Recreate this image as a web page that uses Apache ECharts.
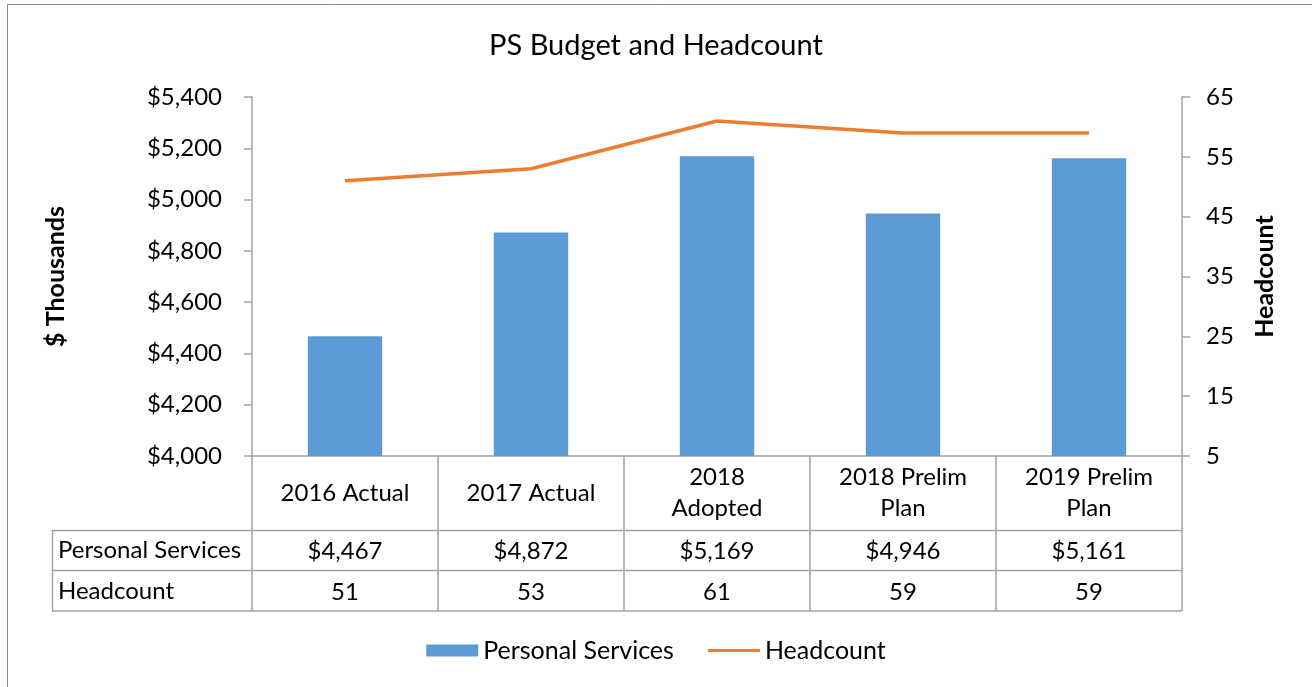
<!DOCTYPE html>
<html>
<head>
<meta charset="utf-8">
<script src="https://cdn.jsdelivr.net/npm/echarts@6/dist/echarts.min.js"></script>
<style>
  html, body { margin: 0; padding: 0; background: #fff; }
  #chart { width: 1312px; height: 687px; }
</style>
</head>
<body>
<div id="chart"></div>
<script>
// values
const categories = ['2016 Actual', '2017 Actual', '2018\nAdopted', '2018 Prelim\nPlan', '2019 Prelim\nPlan']
const personalServices = [4467, 4872, 5169, 4946, 5161]
const headcount = [51, 53, 61, 59, 59]
const rowNames = ['Personal Services', 'Headcount']

const FONT = 'Lato, "Open Sans", sans-serif'
const GRAY = '#a3a3a3'
const SIZE = 24

const money = v => '$' + v.toLocaleString('en-US')

// flat line icon for the legend (tiny corner specks fix the 52x12 box)
const lineIcon = 'path://M0,0L0.01,0L0,0.01Z M52,12L51.99,12L52,11.99Z M0,4.5h52v3h-52z'

const chart = echarts.init(document.getElementById('chart'))

const option = {
  animation: false,
  textStyle: { fontFamily: FONT, color: '#000' },
  title: {
    text: 'PS Budget and Headcount',
    left: 'center',
    top: 26,
    textStyle: { fontFamily: FONT, fontSize: 29, fontWeight: 'normal', color: '#000' }
  },
  legend: {
    bottom: 19,
    left: 'center',
    itemWidth: 52,
    itemHeight: 12,
    itemGap: 34,
    symbolKeepAspect: false,
    textStyle: { fontFamily: FONT, fontSize: 25, color: '#000' },
    data: [
      { name: 'Personal Services', icon: 'rect' },
      { name: 'Headcount', icon: lineIcon }
    ]
  },
  grid: { left: 252, right: 130, top: 97, bottom: 231 },
  xAxis: [
    {
      type: 'category',
      data: categories,
      position: 'bottom',
      axisLine: { lineStyle: { color: GRAY, width: 1.5 } },
      axisTick: { show: true, length: 155, lineStyle: { color: GRAY, width: 1.5 } },
      axisLabel: {
        margin: 37, verticalAlign: 'middle', lineHeight: 31,
        fontSize: SIZE, color: '#000', fontFamily: FONT, interval: 0
      }
    },
    {
      // table row: Personal Services
      type: 'category',
      data: personalServices.map(money),
      position: 'bottom',
      offset: 95,
      axisLine: { show: false },
      axisTick: { show: false },
      axisLabel: { margin: 0, verticalAlign: 'middle', fontSize: SIZE, color: '#000', fontFamily: FONT, interval: 0 }
    },
    {
      // table row: Headcount
      type: 'category',
      data: headcount.map(String),
      position: 'bottom',
      offset: 136,
      axisLine: { show: false },
      axisTick: { show: false },
      axisLabel: { margin: 0, verticalAlign: 'middle', fontSize: SIZE, color: '#000', fontFamily: FONT, interval: 0 }
    }
  ],
  yAxis: [
    {
      type: 'value',
      min: 4000,
      max: 5400,
      interval: 200,
      name: '$ Thousands',
      nameLocation: 'middle',
      nameRotate: 90,
      nameGap: 184,
      nameTextStyle: { fontFamily: FONT, fontSize: 25, fontWeight: 'bold', color: '#000' },
      axisLine: { show: true, lineStyle: { color: GRAY, width: 1.5 } },
      axisTick: { show: true, length: 8, lineStyle: { color: GRAY, width: 1.5 } },
      splitLine: { show: false },
      axisLabel: { margin: 30, fontSize: SIZE, color: '#000', fontFamily: FONT, formatter: money }
    },
    {
      type: 'value',
      min: 5,
      max: 65,
      interval: 10,
      position: 'right',
      name: 'Headcount',
      nameLocation: 'middle',
      nameRotate: 90,
      nameGap: 70,
      nameTextStyle: { fontFamily: FONT, fontSize: 25, fontWeight: 'bold', color: '#000' },
      axisLine: { show: true, lineStyle: { color: GRAY, width: 1.5 } },
      axisTick: { show: true, length: 8, lineStyle: { color: GRAY, width: 1.5 } },
      splitLine: { show: false },
      axisLabel: { margin: 24, fontSize: SIZE, color: '#000', fontFamily: FONT }
    }
  ],
  series: [
    {
      name: 'Personal Services',
      type: 'bar',
      data: personalServices,
      barWidth: '40%',
      itemStyle: { color: '#5b9bd5' }
    },
    {
      name: 'Headcount',
      type: 'line',
      yAxisIndex: 1,
      data: headcount,
      symbol: 'none',
      lineStyle: { color: '#ed7d31', width: 3.5 },
      itemStyle: { color: '#ed7d31' }
    }
  ],
  graphic: [
    // outer frame (only top and left edges are visible in the reference)
    { type: 'polyline', shape: { points: [[7.5, 687], [7.5, 4.5], [1312, 4.5]] }, style: { stroke: '#8c8c8c', fill: null, lineWidth: 1 } },
    // data table horizontal rules and left column
    { type: 'line', shape: { x1: 52, y1: 530.5, x2: 1182, y2: 530.5 }, style: { stroke: GRAY, lineWidth: 1.5 } },
    { type: 'line', shape: { x1: 52, y1: 570.5, x2: 1182, y2: 570.5 }, style: { stroke: GRAY, lineWidth: 1.5 } },
    { type: 'line', shape: { x1: 52, y1: 611, x2: 1182, y2: 611 }, style: { stroke: GRAY, lineWidth: 1.5 } },
    { type: 'line', shape: { x1: 52.5, y1: 530, x2: 52.5, y2: 611 }, style: { stroke: GRAY, lineWidth: 1.5 } },
    { type: 'text', left: 58, top: 538, style: { text: rowNames[0], font: SIZE + 'px ' + FONT, fill: '#000' } },
    { type: 'text', left: 58, top: 579, style: { text: rowNames[1], font: SIZE + 'px ' + FONT, fill: '#000' } }
  ]
}

chart.setOption(option)
</script>
</body>
</html>
